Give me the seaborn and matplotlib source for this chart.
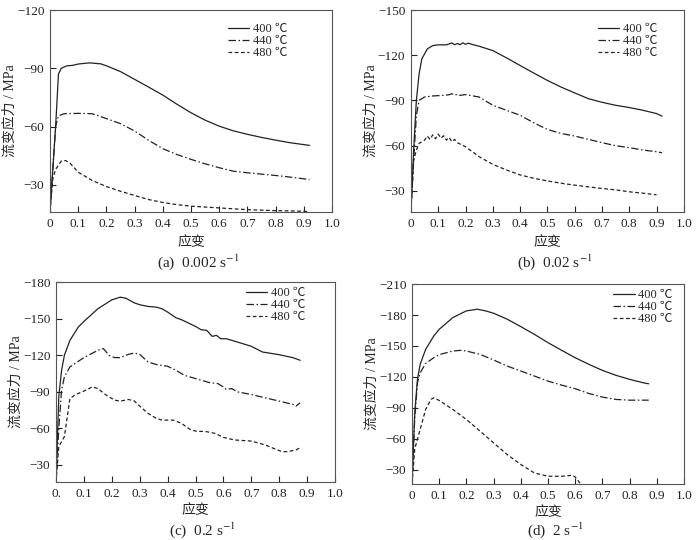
import numpy as np
import pandas as pd
import matplotlib
matplotlib.use('Agg')
import matplotlib.pyplot as plt
import seaborn as sns

sns.set_style('ticks')
plt.rcParams['font.family'] = ['Liberation Serif', 'Noto Sans CJK SC']
plt.rcParams['mathtext.fontset'] = 'stix'
plt.rcParams['axes.unicode_minus'] = True

temps = ['400 ℃', '440 ℃', '480 ℃']

# (a) 0.002 s-1
a_400_x = [0, 0.02, 0.03, 0.04, 0.06, 0.08, 0.1, 0.14, 0.18, 0.2, 0.25, 0.3, 0.35, 0.4, 0.45,
           0.5, 0.55, 0.6, 0.65, 0.7, 0.75, 0.8, 0.85, 0.9, 0.92]
a_400_y = [-16, -60, -87, -90, -91.3, -91.5, -92.2, -92.8, -92.3, -91.3, -88.3, -84.3, -80.3,
           -76.2, -71.5, -67.1, -63.3, -60.2, -57.8, -56.0, -54.4, -53.0, -51.7, -50.7, -50.3]
a_440_x = [0, 0.02, 0.03, 0.05, 0.1, 0.15, 0.2, 0.25, 0.3, 0.35, 0.4, 0.45, 0.5, 0.55, 0.6,
           0.65, 0.7, 0.75, 0.8, 0.85, 0.9, 0.92]
a_440_y = [-16, -60, -65.5, -66.6, -66.8, -66.6, -64.1, -61.5, -57.7, -52.9, -48.6, -45.6, -43.1,
           -40.8, -38.8, -37.0, -36.2, -35.5, -34.8, -34.0, -33.1, -32.7]
a_480_x = [0, 0.01, 0.02, 0.04, 0.055, 0.07, 0.1, 0.15, 0.2, 0.25, 0.3, 0.35, 0.4, 0.45, 0.5,
           0.6, 0.7, 0.8, 0.9, 0.92]
a_480_y = [-16, -33, -38, -42.2, -42.5, -41.3, -36.5, -32.2, -29.1, -26.7, -24.5, -22.4, -20.9,
           -19.8, -19.0, -18.1, -17.2, -16.7, -16.4, -16.0]

# (b) 0.02 s-1
b_400_x = [0, 0.01, 0.02, 0.03, 0.04, 0.06, 0.08, 0.1, 0.13, 0.15, 0.16, 0.17, 0.18, 0.19, 0.2,
           0.21, 0.23, 0.25, 0.3, 0.35, 0.4, 0.45, 0.5, 0.55, 0.6, 0.65, 0.7, 0.75, 0.8, 0.85,
           0.9, 0.92]
b_400_y = [-16, -57, -90, -107.7, -117.6, -124.2, -126.4, -126.9, -126.9, -128.2, -127.0, -127.8,
           -127.0, -128.2, -127.3, -128.0, -126.9, -126.0, -123.1, -118.3, -113.2, -108.2, -103.3,
           -98.9, -95.0, -91.2, -88.8, -86.8, -85.3, -83.5, -81.3, -79.6]
b_440_x = [0, 0.01, 0.02, 0.03, 0.05, 0.08, 0.12, 0.14, 0.15, 0.16, 0.17, 0.18, 0.2, 0.25, 0.3,
           0.35, 0.4, 0.45, 0.5, 0.55, 0.6, 0.65, 0.7, 0.75, 0.8, 0.85, 0.9, 0.92]
b_440_y = [-16, -50, -80, -90.1, -92.3, -93.0, -93.4, -93.8, -94.5, -93.6, -94.1, -93.4, -93.9,
           -92.3, -86.8, -83.5, -80.2, -75.2, -70.8, -68.1, -66.4, -64.2, -62.0, -60.0, -58.7,
           -57.1, -56.0, -55.3]
b_480_x = [0, 0.01, 0.02, 0.03, 0.05, 0.06, 0.07, 0.08, 0.09, 0.1, 0.11, 0.12, 0.13, 0.14, 0.15,
           0.16, 0.17, 0.2, 0.25, 0.3, 0.35, 0.4, 0.45, 0.5, 0.55, 0.6, 0.65, 0.7, 0.75, 0.8,
           0.85, 0.9]
b_480_y = [-16, -50, -57.1, -61.5, -63.7, -66.4, -64.2, -67.2, -64.6, -67.7, -65.0, -66.6, -63.7,
           -65.5, -62.6, -64.2, -62.0, -59.3, -52.7, -47.6, -43.9, -40.6, -38.4, -36.6, -35.1,
           -33.8, -32.7, -31.6, -30.7, -29.4, -28.5, -27.4]

# (c) 0.2 s-1
c_400_x = [0, 0.01, 0.02, 0.03, 0.05, 0.08, 0.1, 0.15, 0.2, 0.23, 0.25, 0.28, 0.3, 0.33, 0.36,
           0.38, 0.4, 0.43, 0.45, 0.48, 0.5, 0.52, 0.54, 0.56, 0.575, 0.59, 0.61, 0.65, 0.7,
           0.74, 0.8, 0.85, 0.875]
c_400_y = [-16, -86, -107.7, -120, -132.3, -143.2, -147.8, -158.2, -165.5, -167.7, -166.9, -163.1,
           -161.5, -160.1, -159.5, -158.2, -155.5, -150.8, -149.2, -145.9, -143.7, -141, -140.5,
           -135.5, -136.4, -133.6, -133.6, -130.9, -127.4, -122.7, -120.5, -118, -115.9]
c_440_x = [0, 0.01, 0.02, 0.03, 0.05, 0.1, 0.15, 0.17, 0.19, 0.21, 0.23, 0.26, 0.28, 0.3, 0.33,
           0.36, 0.4, 0.43, 0.46, 0.5, 0.55, 0.58, 0.6, 0.61, 0.63, 0.65, 0.7, 0.75, 0.8, 0.85,
           0.86, 0.875]
c_440_y = [-16, -60, -91.4, -102.3, -110.5, -118.1, -124.1, -125.5, -120, -118.1, -118.1, -120.8,
           -121.9, -120.8, -114.5, -112.4, -111, -107.7, -103.6, -100.9, -97.6, -96.8, -94, -91.9,
           -92.7, -90, -87.8, -85.1, -82.4, -79.6, -78.3, -81]
c_480_x = [0, 0.01, 0.03, 0.05, 0.07, 0.1, 0.13, 0.15, 0.18, 0.21, 0.23, 0.26, 0.28, 0.3, 0.33,
           0.36, 0.38, 0.42, 0.45, 0.48, 0.5, 0.54, 0.57, 0.6, 0.64, 0.7, 0.75, 0.78, 0.81, 0.83,
           0.86, 0.875]
c_480_y = [-16, -45, -53.2, -84.5, -87.8, -90.6, -94.1, -92.7, -87.3, -83.2, -82.4, -83.7, -82.6,
           -78.3, -72.3, -68.2, -66.8, -66.8, -64.1, -59.2, -57.8, -57.3, -55.9, -52.6, -50.5,
           -49.6, -46.4, -43.6, -40.9, -40.9, -42.3, -44.2]

# (d) 2 s-1
d_400_x = [0, 0.01, 0.02, 0.03, 0.05, 0.08, 0.1, 0.15, 0.2, 0.24, 0.27, 0.3, 0.35, 0.4, 0.45,
           0.5, 0.55, 0.6, 0.65, 0.7, 0.75, 0.8, 0.85, 0.87]
d_400_y = [-16, -85, -117.6, -132.2, -146.7, -159.7, -166.2, -177.6, -184.1, -185.7, -184.1,
           -181.8, -176, -168.8, -161.3, -153.2, -145.8, -138.6, -132.2, -126.3, -121.5, -117.6,
           -114.3, -113.3]
d_440_x = [0, 0.01, 0.02, 0.03, 0.05, 0.08, 0.1, 0.15, 0.18, 0.2, 0.25, 0.3, 0.35, 0.4, 0.45,
           0.5, 0.55, 0.6, 0.65, 0.7, 0.75, 0.8, 0.85, 0.87]
d_440_y = [-16, -80, -114.3, -124, -133.1, -138.6, -141.6, -145.1, -145.8, -145.1, -141.9, -136.4,
           -130.5, -125.7, -120.8, -115.9, -112, -108.5, -103.9, -100.4, -98.1, -97.4, -97.4,
           -97.4]
d_480_x = [0, 0.01, 0.03, 0.05, 0.07, 0.08, 0.1, 0.15, 0.2, 0.25, 0.3, 0.35, 0.4, 0.45, 0.5,
           0.55, 0.59, 0.6, 0.62]
d_480_y = [-16, -50, -69, -88.4, -98.2, -99.7, -97.1, -88.4, -78.6, -67.3, -55.9, -44.6, -34.9,
           -26.7, -23.5, -23.5, -24.5, -22.8, -16]

panels = [
    ('(a)  0.002 s$^{-1}$', [(a_400_x, a_400_y), (a_440_x, a_440_y), (a_480_x, a_480_y)],
     [-120, -90, -60, -30], (-16, -120)),
    ('(b)  0.02 s$^{-1}$', [(b_400_x, b_400_y), (b_440_x, b_440_y), (b_480_x, b_480_y)],
     [-150, -120, -90, -60, -30], (-16, -150)),
    ('(c)  0.2 s$^{-1}$', [(c_400_x, c_400_y), (c_440_x, c_440_y), (c_480_x, c_480_y)],
     [-180, -150, -120, -90, -60, -30], (-16, -180)),
    ('(d)  2 s$^{-1}$', [(d_400_x, d_400_y), (d_440_x, d_440_y), (d_480_x, d_480_y)],
     [-210, -180, -150, -120, -90, -60, -30], (-16, -210)),
]

# axes rectangles in figure fractions, legend anchors in axes fractions
rects = [
    [0.0714, 0.6074, 0.403, 0.374],
    [0.587, 0.6074, 0.390, 0.374],
    [0.080, 0.1074, 0.3986, 0.370],
    [0.5886, 0.1037, 0.3886, 0.370],
]
leg_anchor = [(0.63, 0.935), (0.685, 0.935), (0.68, 0.975), (0.74, 0.975)]
caption_y = [0.515, 0.515, 0.018, 0.018]
xlabel_pad = [5, 5, 3, 3]

dashes = {temps[0]: '', temps[1]: (6, 2, 1.2, 2), temps[2]: (3, 2)}
palette = {t: '#222222' for t in temps}
xticks = np.round(np.arange(0, 1.01, 0.1), 1)

fig = plt.figure(figsize=(7, 5.4), dpi=100)
for i, (caption, curves, yticks, ylim) in enumerate(panels):
    ax = fig.add_axes(rects[i])
    frames = []
    for t, (xs, ys) in zip(temps, curves):
        frames.append(pd.DataFrame({'strain': xs, 'stress': ys, 'T': t}))
    df = pd.concat(frames, ignore_index=True)
    sns.lineplot(data=df, x='strain', y='stress', hue='T', style='T', palette=palette,
                 dashes=dashes, sort=False, estimator=None, linewidth=0.9, ax=ax)
    ax.set_xlim(0, 1.0)
    ax.set_ylim(*ylim)
    ax.set_xticks(xticks)
    xlabels = ['0'] + ['%.1f' % v for v in xticks[1:]]
    if i == 2:
        xlabels[0] = '0.'
    ax.set_xticklabels(xlabels)
    ax.set_yticks(yticks)
    ax.set_yticklabels(['\u2212%d' % abs(v) for v in yticks])
    ax.tick_params(direction='in', length=4, width=0.8, labelsize=9.5, colors='#222222',
                   pad=4)
    for side in ['top', 'right', 'left', 'bottom']:
        ax.spines[side].set_visible(True)
        ax.spines[side].set_color('#555555')
        ax.spines[side].set_linewidth(0.8)
    ax.set_xlabel('应变', fontsize=10, labelpad=xlabel_pad[i])
    ax.set_ylabel('流变应力 / MPa', fontsize=10, labelpad=0)
    leg = ax.legend(loc='upper left', bbox_to_anchor=leg_anchor[i], frameon=False,
                    fontsize=9, handlelength=1.7, handletextpad=0.3, labelspacing=0.0,
                    borderaxespad=0, borderpad=0)
    leg.set_title(None)
    for h in leg.get_lines():
        h.set_linewidth(0.9)
    pos = ax.get_position()
    fig.text(pos.x0 + pos.width * 0.5 + 0.01, caption_y[i], caption, ha='center',
             va='center', fontsize=11)

fig.savefig('out.png', dpi=100)
